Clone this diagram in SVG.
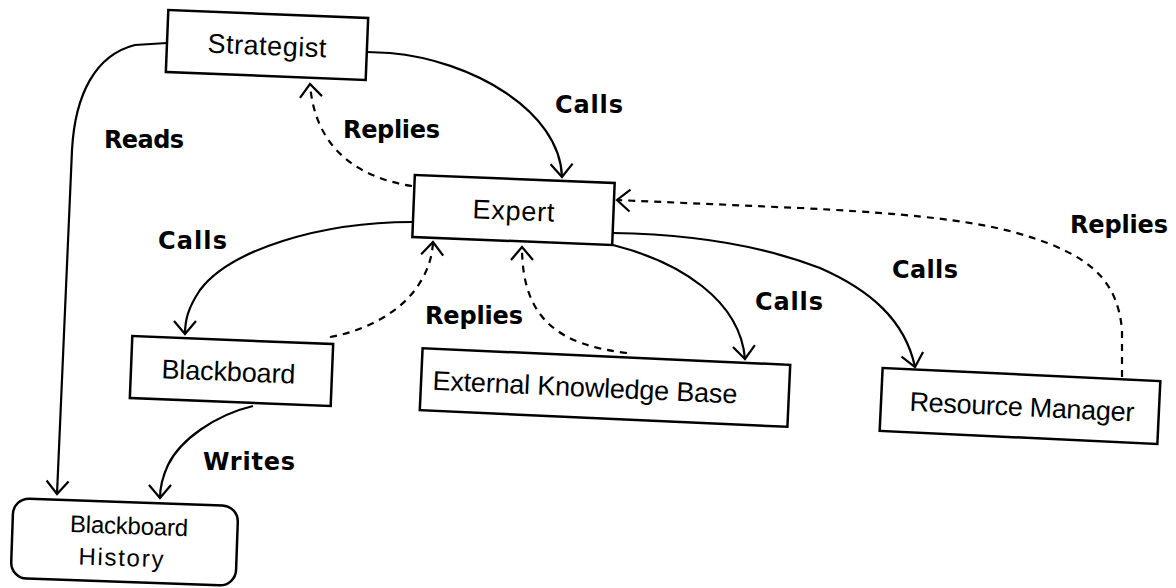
<svg xmlns="http://www.w3.org/2000/svg" width="1176" height="588" viewBox="0 0 1176 588">
  <style>
    .box { fill: #fff; stroke: #000; stroke-width: 2.5; }
    .name { font-family: "Liberation Sans", Arial, sans-serif; font-size: 27px; fill: #000; text-anchor: middle; }
    .name-sm { font-family: "Liberation Sans", Arial, sans-serif; font-size: 24px; fill: #000; text-anchor: middle; }
    .lbl { font-family: "DejaVu Sans", Verdana, sans-serif; font-weight: bold; font-size: 24px; fill: #000; }
    .call { fill: none; stroke: #000; stroke-width: 2.2; marker-end: url(#vhead); }
    .reply { fill: none; stroke: #000; stroke-width: 2.2; stroke-dasharray: 7 6; marker-end: url(#vhead); }
    .head { fill: none; stroke: #000; stroke-width: 2.2; stroke-dasharray: none; }
  </style>
  <defs>
    <marker id="vhead" markerUnits="userSpaceOnUse" orient="auto" refX="0" refY="0" markerWidth="1" markerHeight="1" overflow="visible">
      <path class="head" d="M-13,-11 L0,0 L-13,11"/>
    </marker>
  </defs>

  <rect width="1176" height="588" fill="#fff"/>

  <!-- connectors -->
  <g id="connectors">
    <!-- Strategist calls Expert -->
    <path class="call" d="M367,52 L390,53 C470,60 560,110 562,177"/>
    <!-- Expert replies to Strategist -->
    <path class="reply" d="M412,186 C360,178 315,150 310,84"/>
    <!-- Strategist reads Blackboard History -->
    <path class="call" d="M167,43 L135,45 C95,55 75,95 72,150 L57,494"/>
    <!-- Expert calls Blackboard -->
    <path class="call" d="M412,222 C320,222 230,250 200,290 C188,308 185,320 185,334"/>
    <!-- Blackboard replies to Expert -->
    <path class="reply" d="M330,337 C370,330 400,310 415,290 C428,272 432,258 433,242"/>
    <!-- Expert calls External Knowledge Base -->
    <path class="call" d="M613,245 C680,262 740,300 745,359"/>
    <!-- External Knowledge Base replies to Expert -->
    <path class="reply" d="M627,353 C560,345 522,320 522,247"/>
    <!-- Expert calls Resource Manager -->
    <path class="call" d="M613,233 C690,234 760,245 820,268 C870,290 905,320 915,367"/>
    <!-- Resource Manager replies to Expert -->
    <path class="reply" d="M1122,377 L1122,330 C1118,285 1095,262 1050,244 C1005,227 960,216 800,208 L617,200"/>
    <!-- Blackboard writes Blackboard History -->
    <path class="call" d="M253,406 C215,415 180,440 168,465 C162,478 160,488 160,498"/>
  </g>

  <!-- connector labels -->
  <g id="labels">
    <text class="lbl" x="104" y="148" textLength="80">Reads</text>
    <text class="lbl" x="343" y="138" textLength="97">Replies</text>
    <text class="lbl" x="555" y="113" textLength="68">Calls</text>
    <text class="lbl" x="158" y="249" textLength="69">Calls</text>
    <text class="lbl" x="425" y="324" textLength="98">Replies</text>
    <text class="lbl" x="755" y="310" textLength="68">Calls</text>
    <text class="lbl" x="892" y="278" textLength="66">Calls</text>
    <text class="lbl" x="1070" y="233" textLength="98">Replies</text>
    <text class="lbl" x="203" y="470" textLength="92">Writes</text>
  </g>

  <!-- nodes -->
  <g id="strategist" transform="translate(267,45) rotate(2.3)">
    <rect class="box" x="-100" y="-31" width="200" height="62"/>
    <text class="name" x="0" y="10" textLength="119">Strategist</text>
  </g>

  <g id="expert" transform="translate(513.5,210) rotate(2.3)">
    <rect class="box" x="-100" y="-31" width="200" height="62"/>
    <text class="name" x="0" y="10" textLength="82">Expert</text>
  </g>

  <g id="blackboard" transform="translate(231.5,371) rotate(2.3)">
    <rect class="box" x="-100.5" y="-31" width="201" height="62"/>
    <text class="name" x="-3" y="10" textLength="134">Blackboard</text>
  </g>

  <g id="external-knowledge-base" transform="translate(605,387.5) rotate(2.6)">
    <rect class="box" x="-184" y="-31" width="368" height="62"/>
    <text class="name" x="-20" y="10" textLength="305">External Knowledge Base</text>
  </g>

  <g id="resource-manager" transform="translate(1020,406) rotate(2.7)">
    <rect class="box" x="-139" y="-31.5" width="278" height="63"/>
    <text class="name" x="2" y="10" textLength="225">Resource Manager</text>
  </g>

  <g id="blackboard-history" transform="translate(124.5,542) rotate(2)">
    <rect class="box" x="-112.5" y="-40" width="225" height="80" rx="16" ry="16"/>
    <text class="name-sm" x="4" y="-8" textLength="118">Blackboard</text>
    <text class="name-sm" x="-3" y="24" textLength="85">History</text>
  </g>
</svg>
